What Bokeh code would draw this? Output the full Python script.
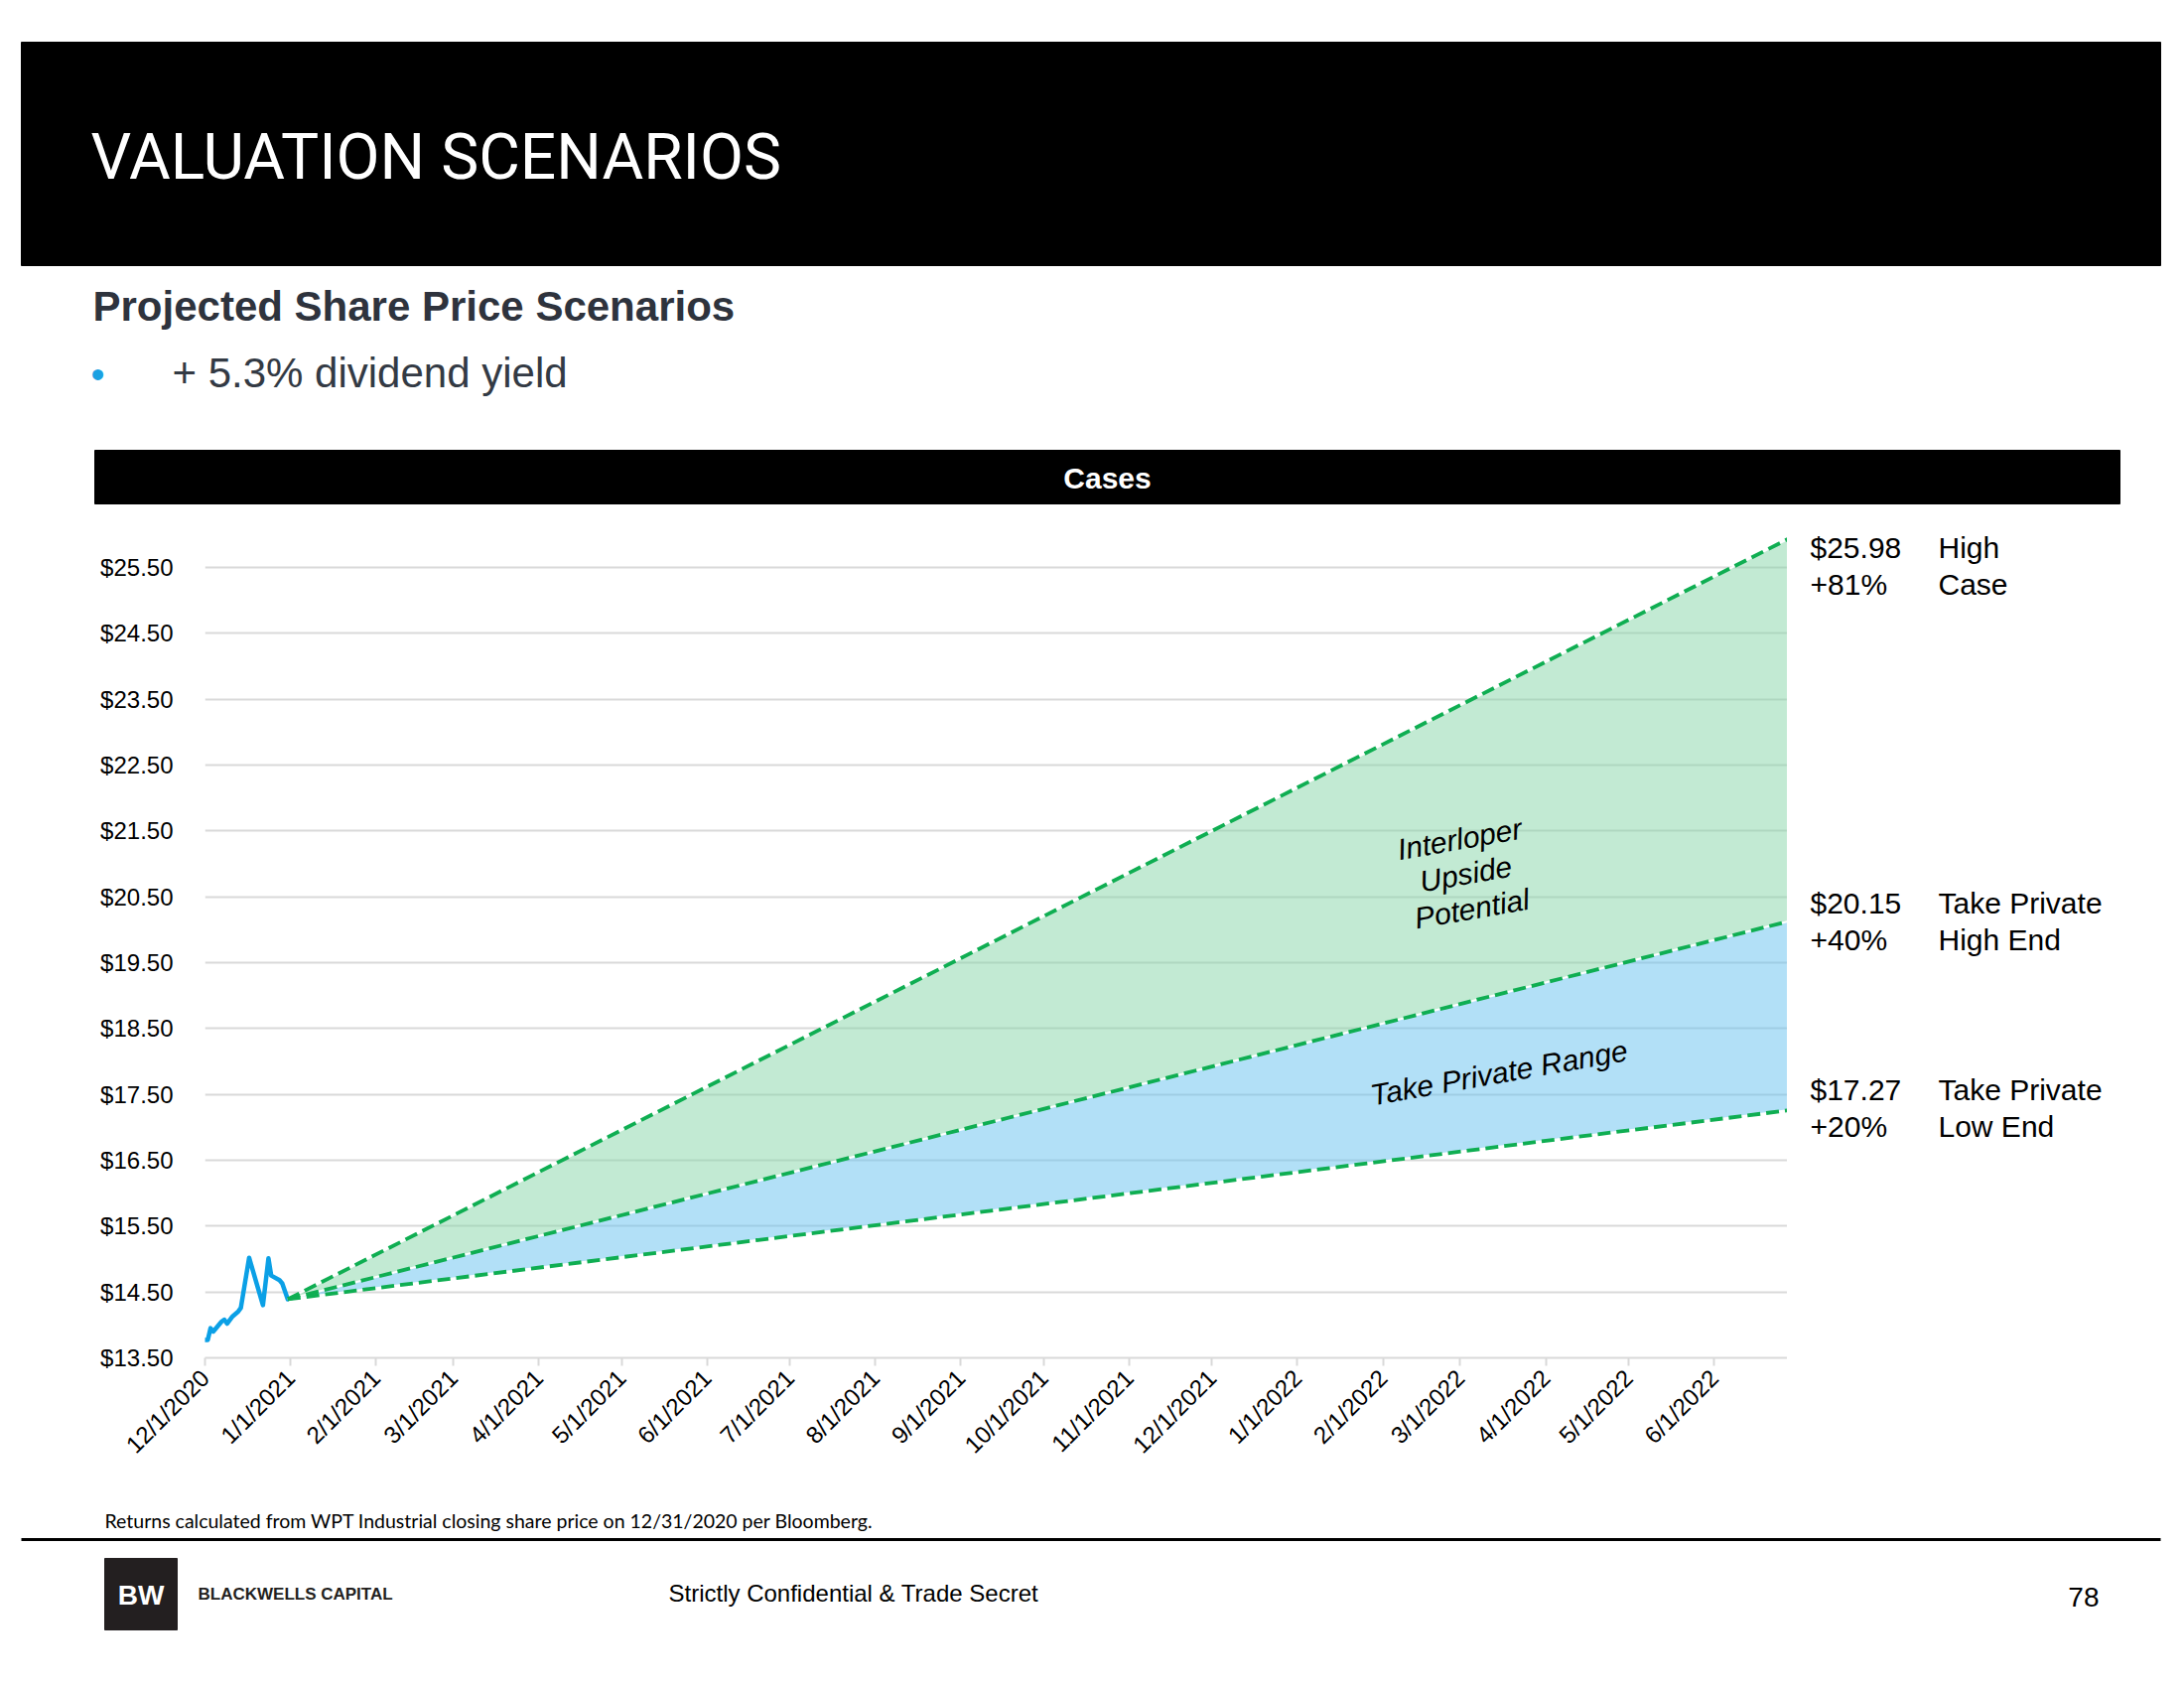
import math
import pandas as pd
from bokeh.plotting import figure
from bokeh.layouts import column, row
from bokeh.models import Range1d, FixedTicker, NumeralTickFormatter, DatetimeTickFormatter
from bokeh.core.properties import value
from bokeh.embed import file_html
from bokeh.resources import INLINE

# ---------------- data ----------------
hist_dates = ["2020-12-01", "2020-12-02", "2020-12-03", "2020-12-04", "2020-12-07", "2020-12-08",
              "2020-12-09", "2020-12-11", "2020-12-13", "2020-12-14", "2020-12-17", "2020-12-22",
              "2020-12-24", "2020-12-25", "2020-12-28", "2020-12-29", "2020-12-31"]
hist_prices = [13.77, 13.77, 13.95, 13.90, 14.05, 14.08, 14.02, 14.13, 14.20, 14.26, 15.02, 14.30,
               15.01, 14.75, 14.68, 14.63, 14.39]

proj_dates = ["2020-12-31", "2022-06-30"]
base_price = 14.39
high_case = [base_price, 25.98]
tp_high = [base_price, 20.15]
tp_low = [base_price, 17.27]

end_values = [25.98, 20.15, 17.27]
end_pcts = ["+81%", "+40%", "+20%"]
case_line1 = ["High", "Take Private", "Take Private"]
case_line2 = ["Case", "High End", "Low End"]

y_ticks = [13.5, 14.5, 15.5, 16.5, 17.5, 18.5, 19.5, 20.5, 21.5, 22.5, 23.5, 24.5, 25.5]
month_ticks = ["2020-12-01", "2021-01-01", "2021-02-01", "2021-03-01", "2021-04-01", "2021-05-01",
               "2021-06-01", "2021-07-01", "2021-08-01", "2021-09-01", "2021-10-01", "2021-11-01",
               "2021-12-01", "2022-01-01", "2022-02-01", "2022-03-01", "2022-04-01", "2022-05-01",
               "2022-06-01"]
month_labels = ["12/1/2020", "1/1/2021", "2/1/2021", "3/1/2021", "4/1/2021", "5/1/2021", "6/1/2021",
                "7/1/2021", "8/1/2021", "9/1/2021", "10/1/2021", "11/1/2021", "12/1/2021", "1/1/2022",
                "2/1/2022", "3/1/2022", "4/1/2022", "5/1/2022", "6/1/2022"]

ARIAL = value("Liberation Sans")
W = 2196
FRAME_L, FRAME_R = 206, 1800
FRAME_T, FRAME_B = 534, 1367
MID_H = 966


def blank(w, h, x0, x1, y_top, y_bot, **kw):
    f = figure(width=w, height=h, x_range=Range1d(x0, x1), y_range=Range1d(y_bot, y_top),
               output_backend="svg", toolbar_location=None, title=None,
               x_axis_location=None, y_axis_location=None, **kw)
    f.grid.visible = False
    f.outline_line_color = None
    f.background_fill_color = "white"
    f.border_fill_color = "white"
    return f


# ---------------- top ----------------
T = blank(W, FRAME_T, 0, W, 0, FRAME_T, min_border=0)
T.quad(left=[21], right=[2176], top=[42], bottom=[267], color="black")
T.text(x=[91], y=[158], text=["VALUATION SCENARIOS"], text_font=value("Roboto"),
       text_font_size=value("64px"), text_color="white", text_align="left", text_baseline="middle")
T.text(x=[93], y=[308], text=["Projected Share Price Scenarios"], text_font=ARIAL,
       text_font_style="bold", text_font_size=value("42px"), text_color="#2e333d",
       text_align="left", text_baseline="middle")
T.text(x=[91], y=[376], text=["•"], text_font=ARIAL, text_font_size=value("40px"),
       text_color="#1ba1e2", text_align="left", text_baseline="middle")
T.text(x=[173], y=[375], text=["+ 5.3% dividend yield"], text_font=ARIAL, text_font_size=value("42px"),
       text_color="#333a44", text_align="left", text_baseline="middle")
T.quad(left=[95], right=[2135], top=[453], bottom=[507], color="black")
T.text(x=[1115], y=[481], text=["Cases"], text_font=ARIAL, text_font_style="bold",
       text_font_size=value("30px"), text_color="white", text_align="center", text_baseline="middle")

# ---------------- chart ----------------
x_start = pd.Timestamp("2020-12-01")
x_end = pd.Timestamp("2022-06-27 14:00")
C = figure(width=FRAME_R, height=MID_H, x_axis_type="datetime",
           x_range=Range1d(x_start, x_end), y_range=Range1d(13.5, 26.06),
           min_border_left=FRAME_L, min_border_right=0, min_border_top=0,
           min_border_bottom=MID_H - (FRAME_B - FRAME_T),
           output_backend="svg", toolbar_location=None, title=None)
C.outline_line_color = None
C.background_fill_color = "white"
C.border_fill_color = "white"

C.yaxis.ticker = FixedTicker(ticks=y_ticks)
C.yaxis.formatter = NumeralTickFormatter(format="$0.00")
C.yaxis.axis_line_color = None
C.yaxis.major_tick_line_color = None
C.yaxis.minor_tick_line_color = None
C.yaxis.major_label_text_font = "Liberation Sans"
C.yaxis.major_label_text_font_size = "24px"
C.yaxis.major_label_text_color = "black"
C.yaxis.major_label_standoff = 26

tick_ms = [pd.Timestamp(d).value / 1e6 for d in month_ticks]
C.xaxis.ticker = FixedTicker(ticks=tick_ms)
C.xaxis.formatter = DatetimeTickFormatter(days="%-m/%-d/%Y", months="%-m/%-d/%Y", years="%-m/%-d/%Y",
                                          context=None)
C.xaxis.major_label_overrides = {ms: lab for ms, lab in zip(tick_ms, month_labels)}
C.xaxis.major_label_orientation = math.pi / 4
C.xaxis.major_label_text_font = "Liberation Sans"
C.xaxis.major_label_text_font_size = "24px"
C.xaxis.major_label_text_color = "black"
C.xaxis.axis_line_color = "#d9d9d9"
C.xaxis.axis_line_width = 2
C.xaxis.major_tick_line_color = "#d9d9d9"
C.xaxis.major_tick_line_width = 2
C.xaxis.major_tick_out = 8
C.xaxis.major_tick_in = 0
C.xaxis.minor_tick_line_color = None
C.xaxis.major_label_standoff = 8

C.xgrid.visible = False
C.ygrid.grid_line_color = "#d9d9d9"
C.ygrid.grid_line_width = 2

px = pd.to_datetime(proj_dates)
C.varea(x=px, y1=tp_high, y2=high_case, fill_color="#85d5a7", fill_alpha=0.5)
C.varea(x=px, y1=tp_low, y2=tp_high, fill_color="#65c1ef", fill_alpha=0.5)

C.line(x=pd.to_datetime(hist_dates), y=hist_prices, line_color="#0ba0e6", line_width=4.5,
       line_join="round", line_cap="round")

for ys in (high_case, tp_high, tp_low):
    C.line(x=px, y=ys, line_color="white", line_width=2)
    C.line(x=px, y=ys, line_color="#0fae52", line_width=3.8, line_dash="13 6")

C.text(x=[pd.Timestamp("2022-03-03")], y=[20.85], text=["Interloper\nUpside\nPotential"],
       text_font=ARIAL, text_font_style="italic", text_font_size=value("30px"), text_color="black",
       text_align="center", text_baseline="middle", angle=10, angle_units="deg", text_line_height=1.08)
C.text(x=[pd.Timestamp("2022-03-15")], y=[17.83], text=["Take Private Range"],
       text_font=ARIAL, text_font_style="italic", text_font_size=value("30px"), text_color="black",
       text_align="center", text_baseline="middle", angle=10, angle_units="deg")

# ---------------- right labels (frame aligned with the chart frame) ----------------
R = blank(W - FRAME_R, MID_H, FRAME_R, W, FRAME_T, FRAME_B,
          min_border_left=0, min_border_right=0, min_border_top=0,
          min_border_bottom=MID_H - (FRAME_B - FRAME_T))
label_y1 = [551, 909, 1097]
label_y2 = [588, 946, 1134]
R.text(x=[1823] * 3, y=label_y1, text=[f"${v:.2f}" for v in end_values], text_font=ARIAL,
       text_font_size=value("30px"), text_color="black", text_align="left", text_baseline="middle")
R.text(x=[1823] * 3, y=label_y2, text=end_pcts, text_font=ARIAL,
       text_font_size=value("30px"), text_color="black", text_align="left", text_baseline="middle")
R.text(x=[1952] * 3, y=label_y1, text=case_line1, text_font=ARIAL,
       text_font_size=value("30px"), text_color="black", text_align="left", text_baseline="middle")
R.text(x=[1952] * 3, y=label_y2, text=case_line2, text_font=ARIAL,
       text_font_size=value("30px"), text_color="black", text_align="left", text_baseline="middle")

# ---------------- footer ----------------
F_Y0 = FRAME_T + MID_H
F_Y1 = 1696
F = blank(W, F_Y1 - F_Y0, 0, W, F_Y0, F_Y1, min_border=0)
F.text(x=[105], y=[1531], text=["Returns calculated from WPT Industrial closing share price on 12/31/2020 per Bloomberg."],
       text_font=value("Lato"), text_font_size=value("19.5px"), text_color="black",
       text_align="left", text_baseline="middle")
F.segment(x0=[21], y0=[1550], x1=[2176], y1=[1550], line_color="black", line_width=3)
F.quad(left=[105], right=[178], top=[1569], bottom=[1641], color="#231f20")
F.text(x=[141.5], y=[1606], text=["BW"], text_font=ARIAL, text_font_style="bold",
       text_font_size=value("28px"), text_color="white", text_align="center", text_baseline="middle")
F.text(x=[199], y=[1605], text=["BLACKWELLS CAPITAL"], text_font=ARIAL, text_font_style="bold",
       text_font_size=value("17px"), text_color="#231f20", text_align="left", text_baseline="middle")
F.text(x=[673], y=[1604], text=["Strictly Confidential & Trade Secret"], text_font=ARIAL,
       text_font_size=value("24px"), text_color="black", text_align="left", text_baseline="middle")
F.text(x=[2114], y=[1608], text=["78"], text_font=ARIAL, text_font_size=value("28px"),
       text_color="black", text_align="right", text_baseline="middle")

layout = column(T, row(C, R, spacing=0), F, spacing=0)
open("out.html", "w").write(file_html(layout, INLINE))
